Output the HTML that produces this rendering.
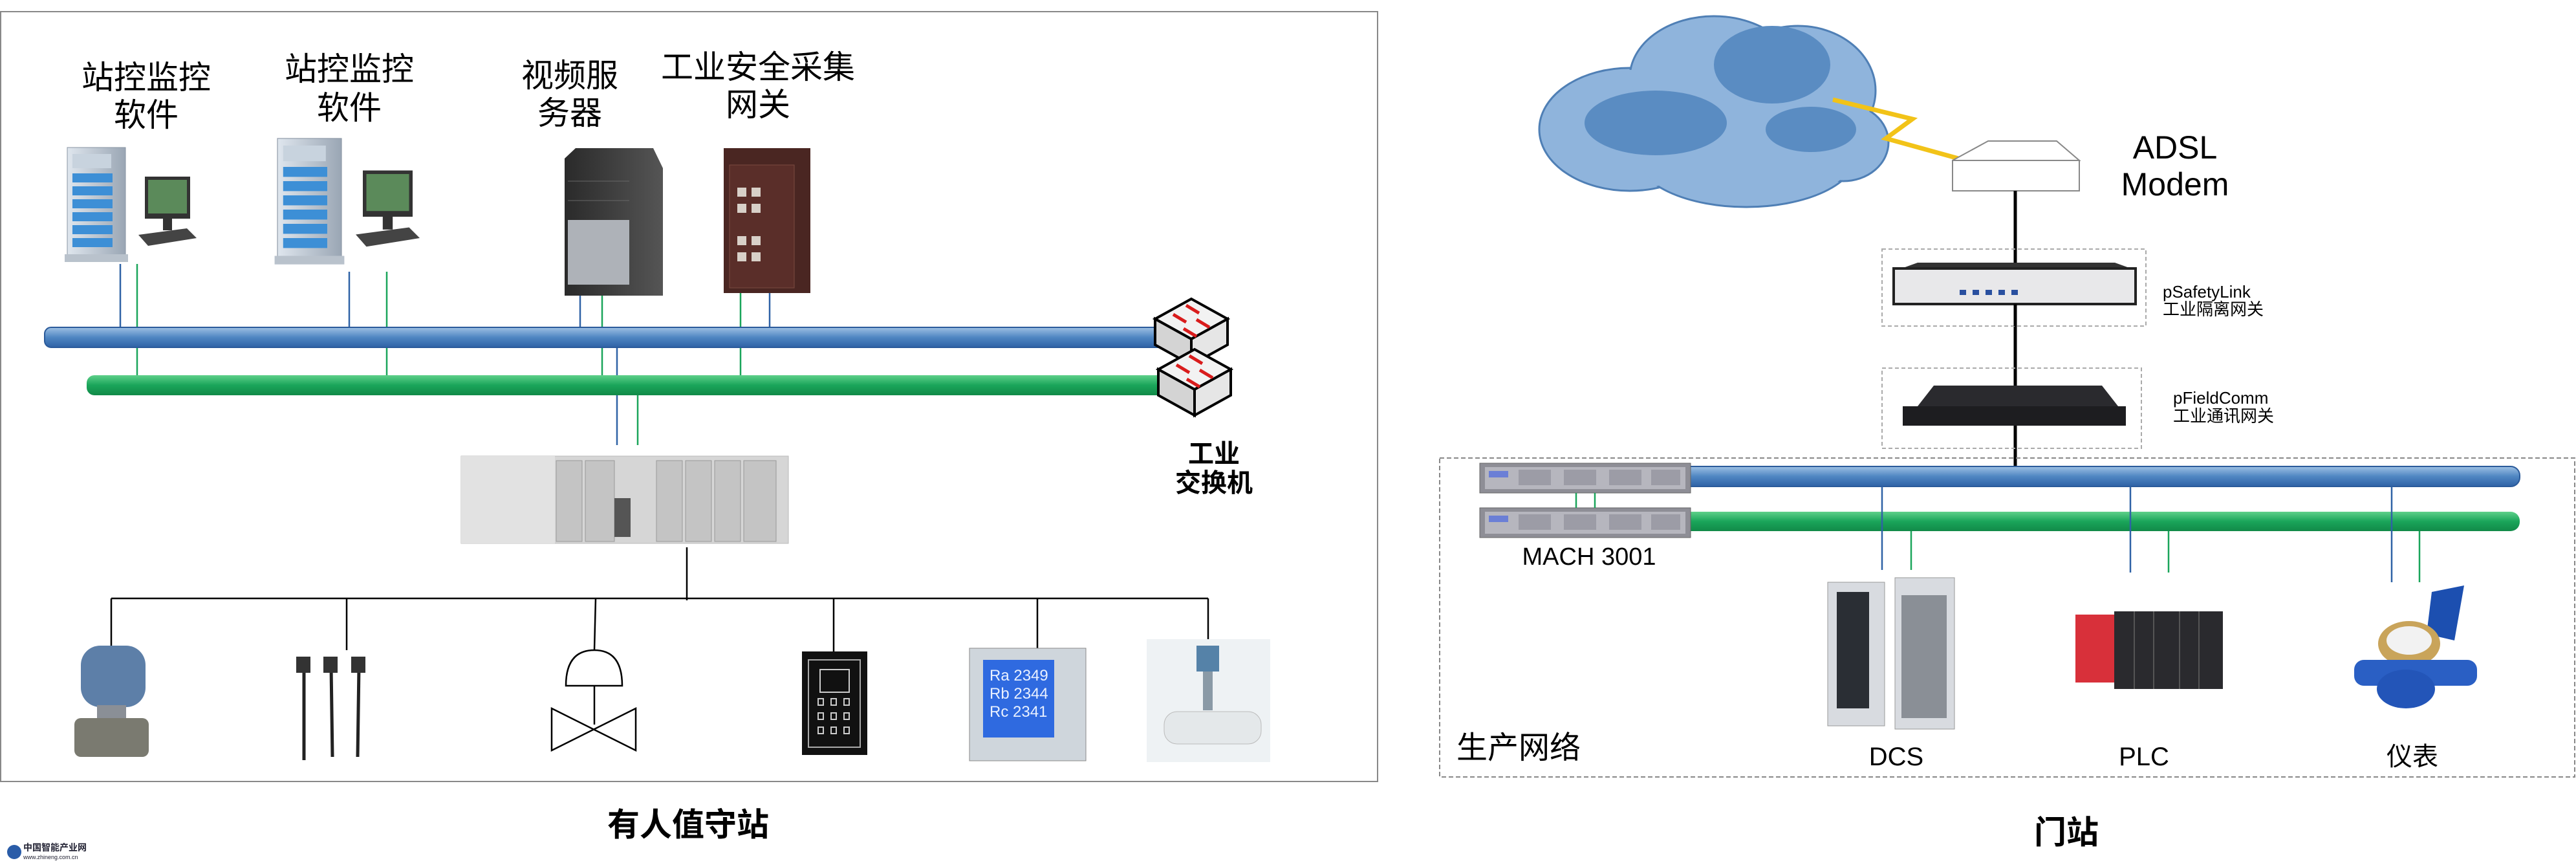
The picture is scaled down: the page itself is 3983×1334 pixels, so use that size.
<!DOCTYPE html>
<html><head><meta charset="utf-8"><style>
html,body{margin:0;padding:0;background:#fff;}
svg{display:block;}
text{font-family:"Liberation Sans","Noto Sans CJK SC",sans-serif;}
</style></head><body>
<svg width="3983" height="1334" viewBox="0 0 3983 1334" xmlns="http://www.w3.org/2000/svg">
<defs>
<linearGradient id="bp" x1="0" y1="0" x2="0" y2="1"><stop offset="0" stop-color="#9fc1e4"/><stop offset="0.5" stop-color="#4f86c2"/><stop offset="1" stop-color="#2f62a6"/></linearGradient>
<linearGradient id="gp" x1="0" y1="0" x2="0" y2="1"><stop offset="0" stop-color="#5fd08a"/><stop offset="0.5" stop-color="#1aa55a"/><stop offset="1" stop-color="#118a48"/></linearGradient>
<linearGradient id="srv" x1="0" y1="0" x2="1" y2="0"><stop offset="0" stop-color="#dfe6ee"/><stop offset="1" stop-color="#9aa6b4"/></linearGradient>
<linearGradient id="blk" x1="0" y1="0" x2="1" y2="0"><stop offset="0" stop-color="#2a2a2a"/><stop offset="1" stop-color="#555"/></linearGradient>
<g id="server">
  <rect x="0" y="0" width="90" height="170" fill="url(#srv)" stroke="#8894a3"/>
  <rect x="8" y="10" width="60" height="22" fill="#c8d3de"/>
  <g fill="#3d8fd6"><rect x="8" y="40" width="62" height="14"/><rect x="8" y="60" width="62" height="14"/><rect x="8" y="80" width="62" height="14"/><rect x="8" y="100" width="62" height="14"/><rect x="8" y="120" width="62" height="14"/><rect x="8" y="140" width="62" height="14"/></g>
  <rect x="-4" y="165" width="98" height="12" fill="#b9c2cc"/>
  <rect x="120" y="45" width="70" height="65" fill="#333"/><rect x="125" y="50" width="60" height="52" fill="#5b8a5a"/>
  <rect x="148" y="110" width="14" height="18" fill="#333"/>
  <polygon points="110,135 185,125 200,140 125,152" fill="#444"/>
</g>
<g id="sw">
  <polygon points="0,31 56,0 112,31 56,62" fill="#f2f2f2" stroke="#000" stroke-width="4"/>
  <polygon points="0,31 56,62 56,102 0,71" fill="#d4d4d4" stroke="#000" stroke-width="4"/>
  <polygon points="56,62 112,31 112,71 56,102" fill="#e6e6e6" stroke="#000" stroke-width="4"/>
  <g stroke="#d91c1c" stroke-width="5" fill="#d91c1c"><line x1="48" y1="36" x2="28" y2="24"/><line x1="68" y1="22" x2="48" y2="10"/><line x1="64" y1="32" x2="84" y2="44"/><line x1="44" y1="46" x2="64" y2="58"/></g>
</g>
<g id="mach">
  <rect x="0" y="0" width="326" height="46" fill="#8e8e96" stroke="#666"/>
  <rect x="8" y="6" width="310" height="34" fill="#b6b6be"/>
  <g fill="#9c9ca6"><rect x="60" y="10" width="50" height="24"/><rect x="130" y="10" width="50" height="24"/><rect x="200" y="10" width="50" height="24"/><rect x="265" y="10" width="45" height="24"/></g>
  <rect x="14" y="12" width="30" height="10" fill="#6b7fd6"/>
</g>
</defs>

<rect x="1" y="18" width="2129" height="1190" fill="none" stroke="#888" stroke-width="2"/>
<g font-size="50" text-anchor="middle" fill="#000">
<text x="226" y="137">站控监控</text><text x="226" y="195">软件</text>
<text x="540" y="124">站控监控</text><text x="540" y="184">软件</text>
<text x="881" y="134">视频服</text><text x="881" y="192">务器</text>
<text x="1172" y="121">工业安全采集</text><text x="1172" y="179">网关</text>
</g>
<use href="#server" x="104" y="228"/>
<use href="#server" x="429" y="214" transform="translate(429 214) scale(1.1) translate(-429 -214)"/>
<polygon points="873,245 890,229 1010,229 1025,260 1025,457 873,457" fill="url(#blk)"/>
<rect x="878" y="340" width="95" height="100" fill="#aeb2b8"/>
<line x1="878" y1="280" x2="973" y2="280" stroke="#666"/><line x1="878" y1="310" x2="973" y2="310" stroke="#666"/>
<rect x="1119" y="229" width="134" height="224" fill="#4a2622"/>
<rect x="1128" y="255" width="100" height="190" fill="#5a2e29" stroke="#7a4a40"/>
<g fill="#d8d0c8"><rect x="1140" y="290" width="14" height="14"/><rect x="1162" y="290" width="14" height="14"/><rect x="1140" y="315" width="14" height="14"/><rect x="1162" y="315" width="14" height="14"/><rect x="1140" y="365" width="14" height="14"/><rect x="1162" y="365" width="14" height="14"/><rect x="1140" y="390" width="14" height="14"/><rect x="1162" y="390" width="14" height="14"/></g>

<g stroke="#2f62a6" stroke-width="2.5">
<line x1="186" y1="408" x2="186" y2="507"/><line x1="540" y1="420" x2="540" y2="507"/><line x1="897" y1="457" x2="897" y2="507"/><line x1="1190" y1="453" x2="1190" y2="507"/><line x1="954" y1="537" x2="954" y2="688"/>
</g>
<g stroke="#1aa55a" stroke-width="2.5">
<line x1="212" y1="408" x2="212" y2="582"/><line x1="598" y1="420" x2="598" y2="582"/><line x1="931" y1="457" x2="931" y2="582"/><line x1="1145" y1="453" x2="1145" y2="582"/><line x1="986" y1="611" x2="986" y2="688"/>
</g>
<rect x="69" y="506" width="1760" height="31" rx="10" fill="url(#bp)" stroke="#2a5a9a" stroke-width="2"/>
<rect x="134" y="580" width="1695" height="31" rx="12" fill="url(#gp)"/>
<use href="#sw" x="1786" y="462"/>
<use href="#sw" x="1791" y="540"/>
<g font-size="40" font-weight="bold" text-anchor="middle"><text x="1877" y="715">工业</text><text x="1877" y="760">交换机</text></g>

<rect x="713" y="705" width="506" height="135" fill="#d6d6d6" stroke="#bbb"/>
<rect x="713" y="705" width="145" height="135" fill="#e2e2e2"/>
<g fill="#c4c4c4" stroke="#999"><rect x="860" y="712" width="40" height="125"/><rect x="905" y="712" width="45" height="125"/><rect x="1015" y="712" width="40" height="125"/><rect x="1060" y="712" width="40" height="125"/><rect x="1105" y="712" width="40" height="125"/><rect x="1150" y="712" width="50" height="125"/></g>
<rect x="950" y="770" width="25" height="60" fill="#555"/>

<g stroke="#000" stroke-width="2.5" fill="none">
<line x1="1062" y1="846" x2="1062" y2="928"/>
<line x1="172" y1="925" x2="1868" y2="925"/>
<line x1="172" y1="925" x2="172" y2="998"/><line x1="536" y1="925" x2="536" y2="1005"/><line x1="921" y1="925" x2="919" y2="1005"/><line x1="1289" y1="925" x2="1289" y2="1007"/><line x1="1604" y1="925" x2="1604" y2="1002"/><line x1="1868" y1="925" x2="1868" y2="988"/>
</g>
<rect x="125" y="998" width="100" height="95" rx="30" fill="#5d7fa8"/>
<rect x="150" y="1090" width="45" height="25" fill="#8a8f96"/>
<rect x="115" y="1110" width="115" height="60" rx="10" fill="#7a7a70"/>
<g stroke="#222" stroke-width="5"><line x1="470" y1="1030" x2="470" y2="1175"/><line x1="512" y1="1030" x2="514" y2="1170"/><line x1="555" y1="1030" x2="553" y2="1170"/></g>
<g fill="#333"><rect x="458" y="1015" width="22" height="25"/><rect x="500" y="1015" width="22" height="25"/><rect x="543" y="1015" width="22" height="25"/></g>
<path d="M875,1060 Q875,1005 919,1005 Q962,1005 962,1060 Z" fill="none" stroke="#000" stroke-width="2.5"/>
<line x1="919" y1="1060" x2="919" y2="1120" stroke="#000" stroke-width="2.5"/>
<polygon points="853,1095 983,1160 983,1095 853,1160" fill="none" stroke="#000" stroke-width="2.5"/>
<rect x="1240" y="1007" width="101" height="160" fill="#111"/>
<rect x="1250" y="1020" width="80" height="135" fill="none" stroke="#aaa" stroke-width="2"/>
<rect x="1268" y="1035" width="45" height="35" fill="none" stroke="#ccc" stroke-width="2"/>
<g fill="none" stroke="#ccc" stroke-width="2"><rect x="1265" y="1080" width="8" height="10"/><rect x="1285" y="1080" width="8" height="10"/><rect x="1305" y="1080" width="8" height="10"/><rect x="1265" y="1102" width="8" height="10"/><rect x="1285" y="1102" width="8" height="10"/><rect x="1305" y="1102" width="8" height="10"/><rect x="1265" y="1124" width="8" height="10"/><rect x="1285" y="1124" width="8" height="10"/><rect x="1305" y="1124" width="8" height="10"/></g>
<rect x="1499" y="1002" width="180" height="174" fill="#cfd6dc" stroke="#888"/>
<rect x="1520" y="1020" width="110" height="120" fill="#2f6ae0"/>
<g fill="#e8f0ff" font-size="24"><text x="1530" y="1052">Ra 2349</text><text x="1530" y="1080">Rb 2344</text><text x="1530" y="1108">Rc 2341</text></g>
<rect x="1773" y="988" width="191" height="190" fill="#eef2f4"/>
<rect x="1850" y="998" width="35" height="40" fill="#5582a8"/>
<rect x="1860" y="1038" width="15" height="60" fill="#8a9aa6"/>
<rect x="1800" y="1100" width="150" height="50" rx="20" fill="#e4e8ea" stroke="#bbb"/>
<text x="1064" y="1292" font-size="50" font-weight="bold" text-anchor="middle">有人值守站</text>
<circle cx="22" cy="1317" r="11" fill="#2a5ca8"/>
<text x="36" y="1315" font-size="14" font-weight="bold" fill="#223">中国智能产业网</text>
<text x="36" y="1328" font-size="9" fill="#223">www.zhineng.com.cn</text>

<g fill="#8fb4dc" stroke="#4f7fb5" stroke-width="3">
<ellipse cx="2520" cy="200" rx="140" ry="95"/><ellipse cx="2650" cy="120" rx="130" ry="95"/><ellipse cx="2780" cy="140" rx="120" ry="100"/><ellipse cx="2700" cy="240" rx="170" ry="80"/><ellipse cx="2850" cy="220" rx="70" ry="60"/>
</g>
<g fill="#8fb4dc" stroke="none"><ellipse cx="2520" cy="200" rx="137" ry="92"/><ellipse cx="2650" cy="120" rx="127" ry="92"/><ellipse cx="2780" cy="140" rx="117" ry="97"/><ellipse cx="2700" cy="240" rx="167" ry="77"/><ellipse cx="2850" cy="220" rx="67" ry="57"/></g>
<g fill="#5a8cc2"><ellipse cx="2560" cy="190" rx="110" ry="50"/><ellipse cx="2740" cy="100" rx="90" ry="60"/><ellipse cx="2800" cy="200" rx="70" ry="35"/></g>
<polyline points="2834,154 2957,184 2916,214 3039,248" fill="none" stroke="#f2c318" stroke-width="7"/>
<polygon points="3019,248 3074,218 3180,218 3215,248" fill="#fff" stroke="#888" stroke-width="2"/>
<rect x="3019" y="248" width="196" height="47" fill="#fff" stroke="#888" stroke-width="2"/>
<g font-size="50" text-anchor="middle"><text x="3363" y="245">ADSL</text><text x="3363" y="302">Modem</text></g>
<line x1="3116" y1="295" x2="3116" y2="722" stroke="#000" stroke-width="5"/>
<rect x="2910" y="385" width="408" height="119" fill="none" stroke="#aaa" stroke-width="2" stroke-dasharray="6,4"/>
<polygon points="2940,415 2965,406 3270,406 3295,415" fill="#333"/>
<rect x="2928" y="415" width="374" height="55" fill="#e8e8ea" stroke="#222" stroke-width="4"/>
<g fill="#2a50a0"><rect x="3030" y="448" width="10" height="8"/><rect x="3050" y="448" width="10" height="8"/><rect x="3070" y="448" width="10" height="8"/><rect x="3090" y="448" width="10" height="8"/><rect x="3110" y="448" width="10" height="8"/></g>
<line x1="3116" y1="470" x2="3116" y2="504" stroke="#000" stroke-width="5"/>
<g font-size="26"><text x="3344" y="460">pSafetyLink</text><text x="3344" y="487">工业隔离网关</text></g>
<rect x="2910" y="569" width="401" height="124" fill="none" stroke="#aaa" stroke-width="2" stroke-dasharray="6,4"/>
<polygon points="2965,628 2990,596 3250,596 3275,628" fill="#2a2a2e"/>
<rect x="2942" y="628" width="345" height="30" fill="#1d1d20"/>
<g font-size="26"><text x="3360" y="624">pFieldComm</text><text x="3360" y="652">工业通讯网关</text></g>
<rect x="2226" y="708" width="1755" height="493" fill="none" stroke="#888" stroke-width="2" stroke-dasharray="7,4"/>
<rect x="2600" y="721" width="1296" height="31" rx="14" fill="url(#bp)" stroke="#2a5a9a" stroke-width="2"/>
<rect x="2600" y="791" width="1296" height="30" rx="14" fill="url(#gp)"/>
<use href="#mach" x="2288" y="716"/>
<use href="#mach" x="2288" y="785"/>
<g stroke="#1aa55a" stroke-width="2.5"><line x1="2437" y1="762" x2="2437" y2="785"/><line x1="2466" y1="762" x2="2466" y2="785"/></g>
<text x="2457" y="873" font-size="38" text-anchor="middle">MACH 3001</text>
<g stroke="#2f62a6" stroke-width="2.5"><line x1="2910" y1="752" x2="2910" y2="881"/><line x1="3294" y1="752" x2="3294" y2="885"/><line x1="3698" y1="752" x2="3698" y2="900"/></g>
<g stroke="#1aa55a" stroke-width="2.5"><line x1="2955" y1="821" x2="2955" y2="881"/><line x1="3353" y1="821" x2="3353" y2="885"/><line x1="3741" y1="821" x2="3741" y2="900"/></g>
<rect x="2826" y="900" width="88" height="222" fill="#d8dbe0" stroke="#999"/>
<rect x="2840" y="915" width="50" height="180" fill="#2a2e34"/>
<rect x="2930" y="893" width="92" height="234" fill="#d8dbe0" stroke="#999"/>
<rect x="2940" y="920" width="70" height="190" fill="#8a8f96"/>
<rect x="3209" y="950" width="60" height="105" fill="#d8303a"/>
<rect x="3269" y="945" width="168" height="120" fill="#2a2a2e"/>
<g stroke="#555" stroke-width="2"><line x1="3300" y1="945" x2="3300" y2="1065"/><line x1="3330" y1="945" x2="3330" y2="1065"/><line x1="3370" y1="945" x2="3370" y2="1065"/><line x1="3400" y1="945" x2="3400" y2="1065"/></g>
<polygon points="3760,915 3810,905 3795,990 3752,980" fill="#1c4fb0"/>
<ellipse cx="3725" cy="995" rx="48" ry="35" fill="#c9a45a"/>
<ellipse cx="3725" cy="990" rx="35" ry="22" fill="#f2f2f2"/>
<rect x="3640" y="1020" width="190" height="40" rx="15" fill="#2a5fc4"/>
<ellipse cx="3720" cy="1065" rx="45" ry="30" fill="#2355b8"/>
<g font-size="40" text-anchor="middle">
<text x="2348" y="1172" font-size="48">生产网络</text>
<text x="2932" y="1183">DCS</text><text x="3315" y="1183">PLC</text><text x="3730" y="1183">仪表</text>
</g>
<text x="3195" y="1304" font-size="50" font-weight="bold" text-anchor="middle">门站</text>
</svg>
</body></html>
